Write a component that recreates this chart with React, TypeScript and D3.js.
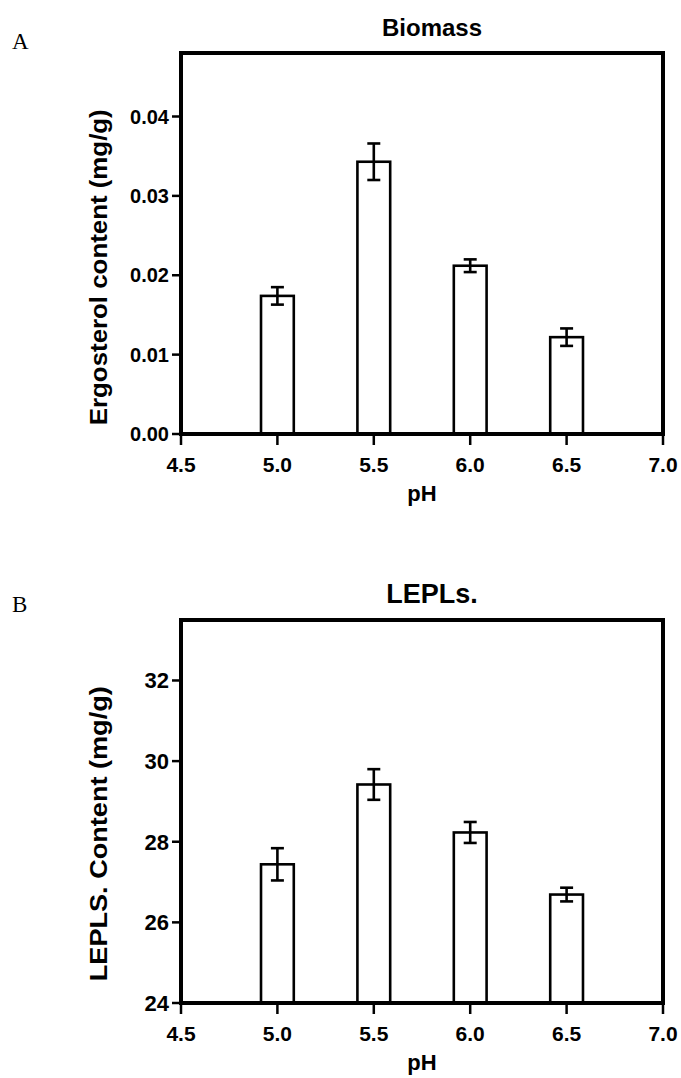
import React from "react";
import * as d3 from "d3";

// pH levels on the x axis
const phLevels = [5.0, 5.5, 6.0, 6.5];
const xTicks = [4.5, 5.0, 5.5, 6.0, 6.5, 7.0];

// panel A: ergosterol content (mg/g)
const ergosterolMean = [0.0174, 0.0343, 0.0212, 0.0122];
const ergosterolErr = [0.0011, 0.0023, 0.0008, 0.0011];
const ergosterolTicks = [0, 0.01, 0.02, 0.03, 0.04];

// panel B: LEPLS content (mg/g)
const leplsMean = [27.44, 29.42, 28.23, 26.69];
const leplsErr = [0.4, 0.38, 0.26, 0.17];
const leplsTicks = [24, 26, 28, 30, 32];

const FONT = "'Liberation Sans', Arial, sans-serif";

function Panel({ top, bottom, yDomain, yTicks, yFormat, tickSize, means, errs, title, titleSize, yLabel, labelLen, letter, letterY }) {
  const left = 181;
  const right = 663;
  const x = d3.scaleLinear().domain([4.5, 7.0]).range([left, right]);
  const y = d3.scaleLinear().domain(yDomain).range([bottom, top]);
  const barW = x(4.5 + 0.17) - x(4.5);
  const capW = 13;
  const yMid = (y(yTicks[0]) + y(yTicks[yTicks.length - 1])) / 2 - 8;

  return (
    <g>
      <text x={12} y={letterY} fontFamily="'Liberation Serif', serif" fontSize={23}>{letter}</text>
      <text x={432} y={top - 17} textAnchor="middle" fontFamily={FONT} fontWeight="bold" fontSize={titleSize}>{title}</text>

      {phLevels.map((p, i) => (
        <g key={p}>
          <rect x={x(p) - barW / 2} y={y(means[i])} width={barW} height={bottom - y(means[i])}
            fill="#fff" stroke="#000" strokeWidth={2.6} />
          <line x1={x(p)} x2={x(p)} y1={y(means[i] + errs[i])} y2={y(means[i] - errs[i])} stroke="#000" strokeWidth={2.6} />
          <line x1={x(p) - capW / 2} x2={x(p) + capW / 2} y1={y(means[i] + errs[i])} y2={y(means[i] + errs[i])} stroke="#000" strokeWidth={2.6} />
          <line x1={x(p) - capW / 2} x2={x(p) + capW / 2} y1={y(means[i] - errs[i])} y2={y(means[i] - errs[i])} stroke="#000" strokeWidth={2.6} />
        </g>
      ))}

      <rect x={left} y={top} width={right - left} height={bottom - top} fill="none" stroke="#000" strokeWidth={4} />

      {yTicks.map(t => (
        <g key={t}>
          <line x1={left - 9} x2={left} y1={y(t)} y2={y(t)} stroke="#000" strokeWidth={2.5} />
          <text x={left - 12} y={y(t) + tickSize * 0.36} textAnchor="end" fontFamily={FONT} fontWeight="bold" fontSize={tickSize}>{yFormat(t)}</text>
        </g>
      ))}
      {xTicks.map(t => (
        <g key={t}>
          <line x1={x(t)} x2={x(t)} y1={bottom} y2={bottom + 11} stroke="#000" strokeWidth={2.5} />
          <text x={x(t)} y={bottom + 38} textAnchor="middle" fontFamily={FONT} fontWeight="bold" fontSize={21}>{d3.format(".1f")(t)}</text>
        </g>
      ))}
      <text x={x(5.75)} y={bottom + 67} textAnchor="middle" fontFamily={FONT} fontWeight="bold" fontSize={22}>pH</text>
      <text transform={`translate(107,${yMid}) rotate(-90)`} textAnchor="middle" fontFamily={FONT} fontWeight="bold" fontSize={23}
        textLength={labelLen} lengthAdjust="spacingAndGlyphs">{yLabel}</text>
    </g>
  );
}

export default function App() {
  return (
    <svg width={681} height={1078} style={{ position: "absolute", left: 0, top: 0, background: "#fff" }}>
      <rect width={681} height={1078} fill="#fff" />
      <Panel top={53} bottom={434} yDomain={[0, 0.048]} yTicks={ergosterolTicks} yFormat={d3.format(".2f")} tickSize={20}
        means={ergosterolMean} errs={ergosterolErr} title="Biomass" titleSize={24}
        yLabel="Ergosterol content (mg/g)" labelLen={316} letter="A" letterY={49} />
      <Panel top={620} bottom={1003} yDomain={[24, 33.5]} yTicks={leplsTicks} yFormat={d3.format("d")} tickSize={22}
        means={leplsMean} errs={leplsErr} title="LEPLs." titleSize={27}
        yLabel="LEPLS. Content (mg/g)" labelLen={295} letter="B" letterY={612} />
    </svg>
  );
}
